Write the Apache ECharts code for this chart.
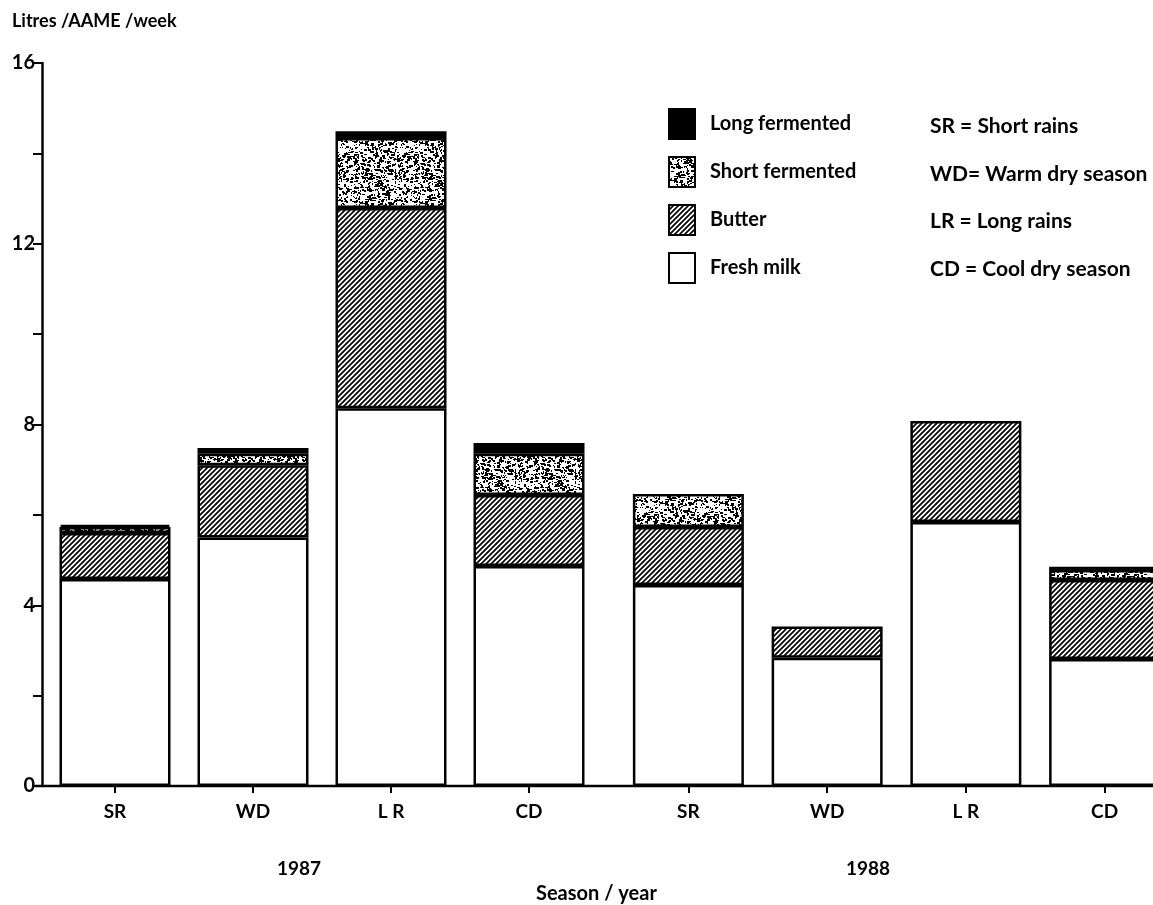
<!DOCTYPE html>
<html>
<head>
<meta charset="utf-8">
<script src="https://cdn.jsdelivr.net/npm/echarts@6/dist/echarts.min.js"></script>
<style>
html,body{margin:0;padding:0;background:#fff;}
#chart{width:1153px;height:905px;}
</style>
</head>
<body>
<div id="chart"></div>
<script>
// ---- data ----
const seasons = ['SR', 'WD', 'L R', 'CD'];
const years = ['1987', '1988'];
// values per season, 1987 SR..CD then 1988 SR..CD (litres/AAME/week)
const freshMilk      = [4.58, 5.50, 8.36, 4.87, 4.45, 2.84, 5.84, 2.81];
const butter         = [1.02, 1.60, 4.43, 1.57, 1.28, 0.69, 2.24, 1.75];
const shortFermented = [0.13, 0.25, 1.55, 0.91, 0.73, null, null, 0.22];
const longFermented  = [0.05, 0.13, 0.15, 0.24, null, null, null, 0.07];
const yTicks = [0, 4, 8, 12, 16];
const seriesNames = ['Fresh milk', 'Butter', 'Short fermented', 'Long fermented'];
const abbreviations = ['SR = Short rains', 'WD= Warm dry season', 'LR = Long rains', 'CD = Cool dry season'];

// ---- patterns ----
function hatchCanvas() {
  const s = 5, c = document.createElement('canvas');
  c.width = c.height = s;
  const g = c.getContext('2d');
  g.fillStyle = '#fff'; g.fillRect(0, 0, s, s);
  g.strokeStyle = '#000'; g.lineWidth = 1.7;
  g.beginPath();
  g.moveTo(-1, s + 1); g.lineTo(s + 1, -1);
  g.moveTo(-1, 1); g.lineTo(1, -1);
  g.moveTo(s - 1, s + 1); g.lineTo(s + 1, s - 1);
  g.stroke();
  return c;
}
function speckleCanvas() {
  const s = 60, c = document.createElement('canvas');
  c.width = c.height = s;
  const g = c.getContext('2d');
  g.fillStyle = '#fff'; g.fillRect(0, 0, s, s);
  g.fillStyle = '#000';
  const h = n => { const x = Math.sin(n * 12.9898 + 78.233) * 43758.5453; return x - Math.floor(x); };
  for (let i = 0; i < 650; i++) {
    const x = Math.floor(h(i * 3 + 1) * s);
    const y = Math.floor(h(i * 3 + 2) * s);
    const w = 1 + Math.floor(h(i * 3 + 3) * 2.5);
    const hh = 1 + Math.floor(h(i * 7 + 5) * 2);
    g.fillRect(x, y, w, hh);
  }
  return c;
}
const hatch = { image: hatchCanvas(), repeat: 'repeat' };
const speckle = { image: speckleCanvas(), repeat: 'repeat' };
const fills = ['#ffffff', hatch, speckle, '#000000'];
const valueSets = [freshMilk, butter, shortFermented, longFermented];

const FONT = 'Lato';
const chart = echarts.init(document.getElementById('chart'), null, { renderer: 'canvas' });

const grids = [
  { left: 46, top: 63, right: 555, bottom: 119, outerBoundsMode: 'none', containLabel: false },
  { left: 619, top: 63, right: -21, bottom: 119, outerBoundsMode: 'none', containLabel: false }
];
const xAxes = years.map((y, gi) => ({
  type: 'category', gridIndex: gi, data: seasons,
  axisLine: { show: false },
  axisTick: { show: true, alignWithLabel: true, length: 7, lineStyle: { color: '#000', width: 2 } },
  axisLabel: { color: '#000', fontFamily: FONT, fontWeight: 'bold', fontSize: 19, margin: 16 }
}));
const yAxes = years.map((y, gi) => ({
  type: 'value', gridIndex: gi, min: 0, max: 16, interval: 2,
  show: gi === 0, offset: 4,
  splitLine: { show: false },
  axisLine: { show: true, lineStyle: { color: '#000', width: 2.5 } },
  axisTick: { show: true, length: 9, lineStyle: { color: '#000', width: 2 } },
  axisLabel: {
    color: '#000', fontFamily: FONT, fontWeight: 'bold', fontSize: 20, margin: 7,
    formatter: v => (yTicks.indexOf(v) >= 0 ? String(v) : '')
  }
}));

const series = [];
years.forEach((yr, gi) => {
  seriesNames.forEach((name, si) => {
    series.push({
      name: name, type: 'bar', stack: 'total' + gi,
      xAxisIndex: gi, yAxisIndex: gi,
      barWidth: 111,
      data: valueSets[si].slice(gi * 4, gi * 4 + 4).map(v => (v == null ? '-' : v)),
      itemStyle: { color: fills[si], borderColor: '#000', borderWidth: 2.5 },
      emphasis: { disabled: true },
      animation: false
    });
  });
});

const graphics = [
  { type: 'line', z: 0, shape: { x1: 35, y1: 786, x2: 1153, y2: 786 }, style: { stroke: '#000', lineWidth: 2.5 } },
  { type: 'text', left: 277, top: 859, style: { text: years[0], font: 'bold 19px ' + FONT, fill: '#000' } },
  { type: 'text', left: 846, top: 859, style: { text: years[1], font: 'bold 19px ' + FONT, fill: '#000' } },
  { type: 'text', left: 536, top: 884, style: { text: 'Season / year', font: 'bold 20px ' + FONT, fill: '#000' } }
];
abbreviations.forEach((t, i) => {
  graphics.push({ type: 'text', left: 930, top: 116 + i * 47.5, style: { text: t, font: 'bold 21px ' + FONT, fill: '#000' } });
});

chart.setOption({
  backgroundColor: '#fff',
  animation: false,
  title: {
    text: 'Litres /AAME /week', left: 7, top: 7,
    textStyle: { color: '#000', fontFamily: FONT, fontWeight: 'bold', fontSize: 18 }
  },
  legend: {
    data: ['Long fermented', 'Short fermented', 'Butter', 'Fresh milk'],
    orient: 'vertical', left: 663, top: 103,
    itemWidth: 26, itemHeight: 30, itemGap: 16,
    icon: 'rect', selectedMode: false,
    textStyle: { color: '#000', fontFamily: FONT, fontWeight: 'bold', fontSize: 20, padding: [4, 0, 0, 10] }
  },
  grid: grids,
  xAxis: xAxes,
  yAxis: yAxes,
  series: series,
  graphic: graphics
});
</script>
</body>
</html>
